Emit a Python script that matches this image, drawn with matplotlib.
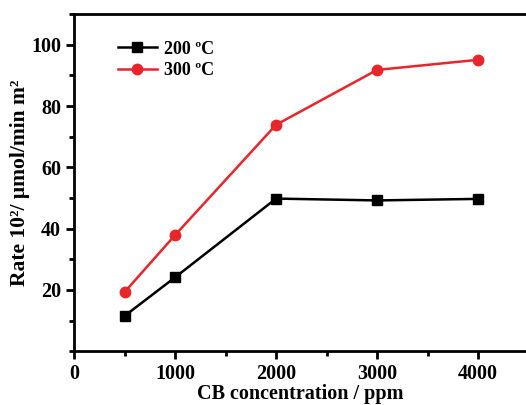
import matplotlib
matplotlib.use("Agg")
from matplotlib import pyplot as plt
from matplotlib.ticker import MultipleLocator

conc = [500, 1000, 2000, 3000, 4000]
rate_200 = [11.5, 24.1, 49.8, 49.2, 49.7]
rate_300 = [19.3, 37.9, 73.9, 91.8, 95.1]
labels = ['200 ºC', '300 ºC']

plt.rcParams['font.family'] = ['Liberation Serif', 'DejaVu Serif']
plt.rcParams['font.weight'] = 'bold'

fig = plt.figure(figsize=(5.26, 4.05), dpi=100)
ax = fig.add_axes([0.141, 0.133, 0.859, 0.832])

ax.plot(conc, rate_200, color='black', marker='s', markersize=6.5, linewidth=1.8, label=labels[0])
ax.plot(conc, rate_300, color='#e8252a', marker='o', markersize=7.5, linewidth=1.8, label=labels[1])

ax.set_xlim(0, 4475)
ax.set_ylim(0, 110)
ax.xaxis.set_major_locator(MultipleLocator(1000))
ax.xaxis.set_minor_locator(MultipleLocator(500))
ax.yaxis.set_major_locator(MultipleLocator(20))
ax.yaxis.set_minor_locator(MultipleLocator(10))
ax.set_yticks([20, 40, 60, 80, 100])

ax.spines['right'].set_visible(False)
for s in ['left', 'bottom', 'top']:
    ax.spines[s].set_linewidth(2)
ax.tick_params(which='major', direction='out', length=6, width=2, labelsize=14.5)
ax.tick_params(which='minor', direction='out', length=3.5, width=2)
ax.tick_params(axis='x', pad=3)
for lbl in ax.get_xticklabels() + ax.get_yticklabels():
    lbl.set_fontweight('bold')

ax.set_xlabel('CB concentration / ppm', fontsize=14.5, fontweight='bold', labelpad=0)
ax.set_ylabel('Rate 10²/ μmol/min m²', fontsize=15.5, fontweight='bold', labelpad=1)

ax.legend(loc='upper left', bbox_to_anchor=(0.06, 0.97), frameon=False,
          prop={'family': 'Liberation Serif', 'weight': 'bold', 'size': 13},
          handlelength=2.2, handletextpad=0.4, labelspacing=0.25)

fig.savefig('out.png', dpi=100)
